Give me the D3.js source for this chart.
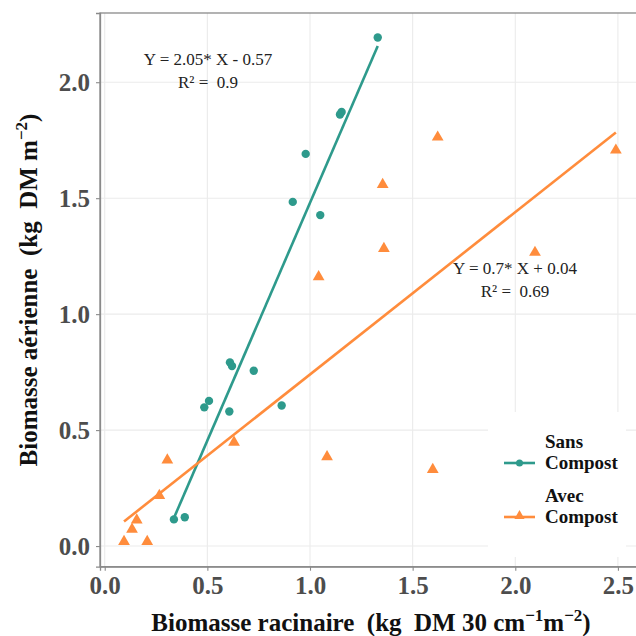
<!DOCTYPE html>
<html><head><meta charset="utf-8">
<script src="https://cdn.jsdelivr.net/npm/d3@7"></script>
<style>body{margin:0;background:#fff}svg{display:block}text{white-space:pre}</style>
</head><body>
<script>
const sansX = [0.337,0.39,0.485,0.508,0.607,0.61,0.62,0.726,0.862,0.916,0.979,1.05,1.146,1.154,1.33];
const sansY = [0.115,0.124,0.598,0.626,0.58,0.792,0.776,0.756,0.606,1.484,1.691,1.427,1.861,1.872,2.193];
const avecX = [0.094,0.133,0.156,0.207,0.266,0.305,0.63,1.042,1.083,1.354,1.36,1.598,1.622,2.096,2.49];
const avecY = [0.019,0.072,0.112,0.019,0.218,0.371,0.447,1.161,0.385,1.559,1.283,0.33,1.763,1.266,1.707];
const fitSans = [2.05, -0.57];
const fitAvec = [0.7, 0.04];
const eqSans = ["Y = 2.05* X - 0.57", "R\u00B2 =  0.9"];
const eqAvec = ["Y = 0.7* X + 0.04", "R\u00B2 =  0.69"];
const xTicks = [0, 0.5, 1, 1.5, 2, 2.5];
const yTicks = [0, 0.5, 1, 1.5, 2];
const seriesNames = [["Sans","Compost"],["Avec","Compost"]];
const colors = ["#2E9A8C", "#FF8C3C"];

const W = 636, H = 636;
const svg = d3.select("body").append("svg").attr("width", W).attr("height", H);
const font = "Liberation Serif";
const x = d3.scaleLinear().domain([-0.023, 2.61]).range([100, 640.5]);
const y = d3.scaleLinear().domain([-0.089, 2.2985]).range([566.7, 13]);

// grid
const g = svg.append("g");
g.selectAll(".gx").data(xTicks).join("line")
  .attr("x1", d => x(d)).attr("x2", d => x(d)).attr("y1", 13).attr("y2", 566.7)
  .attr("stroke", "#ebebeb").attr("stroke-width", 1.1);
g.selectAll(".gy").data(yTicks).join("line")
  .attr("y1", d => y(d)).attr("y2", d => y(d)).attr("x1", 100).attr("x2", 640)
  .attr("stroke", "#ebebeb").attr("stroke-width", 1.1);

// panel border
svg.append("rect").attr("x", 100).attr("y", 13).attr("width", 540.5).attr("height", 553.7)
  .attr("fill", "none").attr("stroke", "#8a8a8a").attr("stroke-width", 1.3);

// axes
const xAxis = d3.axisBottom(x).tickValues(xTicks).tickFormat(d3.format(".1f")).tickSize(4).tickPadding(6);
const yAxis = d3.axisLeft(y).tickValues(yTicks).tickFormat(d3.format(".1f")).tickSize(4).tickPadding(6);
const ax = svg.append("g").attr("transform", "translate(0,566.7)").call(xAxis);
const ay = svg.append("g").attr("transform", "translate(100,0)").call(yAxis);
[ax, ay].forEach(a => {
  a.select(".domain").attr("stroke", "#8a8a8a").attr("stroke-width", 1.3);
  a.selectAll(".tick line").attr("stroke", "#8a8a8a").attr("stroke-width", 1.1);
  a.selectAll("text").attr("font-family", font).attr("font-weight", "bold")
    .attr("font-size", 25).attr("fill", "#4D4D4D");
});
ay.selectAll("text").attr("dy", "0.34em");

// fit lines
function drawFit(xs, coef, col) {
  const x0 = d3.min(xs), x1 = d3.max(xs);
  svg.append("line").attr("x1", x(x0)).attr("y1", y(coef[0]*x0 + coef[1]))
    .attr("x2", x(x1)).attr("y2", y(coef[0]*x1 + coef[1]))
    .attr("stroke", col).attr("stroke-width", 2.6);
}
drawFit(sansX, fitSans, colors[0]);
drawFit(avecX, fitAvec, colors[1]);

// points
svg.append("g").selectAll("circle").data(sansX.map((v,i)=>[v, sansY[i]])).join("circle")
  .attr("cx", d => x(d[0])).attr("cy", d => y(d[1])).attr("r", 4.2).attr("fill", colors[0]);
const tri = d3.symbol().type(d3.symbolTriangle).size(60);
svg.append("g").selectAll("path").data(avecX.map((v,i)=>[v, avecY[i]])).join("path")
  .attr("d", tri).attr("transform", d => `translate(${x(d[0])},${y(d[1])})`).attr("fill", colors[1]);

// equations
function eq(lines, cx, y0) {
  lines.forEach((t, i) => svg.append("text").attr("x", cx).attr("y", y0 + i*23)
    .attr("text-anchor", "middle").attr("font-family", font).attr("font-size", 17)
    .attr("fill", "#222").text(t));
}
eq(eqSans, 208, 65);
eq(eqAvec, 515, 274);

// legend
svg.append("rect").attr("x", 488).attr("y", 412).attr("width", 138).attr("height", 145).attr("fill", "#fff");
seriesNames.forEach((nm, i) => {
  const yy = 463 + i*54;
  svg.append("line").attr("x1", 504).attr("x2", 535).attr("y1", yy).attr("y2", yy)
    .attr("stroke", colors[i]).attr("stroke-width", 2.6);
  if (i === 0) svg.append("circle").attr("cx", 519.5).attr("cy", yy).attr("r", 3.5).attr("fill", colors[i]);
  else svg.append("path").attr("d", d3.symbol().type(d3.symbolTriangle).size(45))
    .attr("transform", `translate(519.5,${yy-1})`).attr("fill", colors[i]);
  nm.forEach((t, j) => svg.append("text").attr("x", 545).attr("y", yy - 15 + j*21)
    .attr("font-family", font).attr("font-weight", "bold").attr("font-size", 19)
    .attr("fill", "#111").text(t));
});

// axis titles
const xt = svg.append("text").attr("x", 371).attr("y", 631).attr("text-anchor", "middle")
  .attr("font-family", font).attr("font-weight", "bold").attr("font-size", 25).attr("fill", "#111");
xt.append("tspan").text("Biomasse racinaire  (kg  DM 30 cm");
xt.append("tspan").attr("dy", -10).attr("font-size", 17).text("\u22121");
xt.append("tspan").attr("dy", 10).text("m");
xt.append("tspan").attr("dy", -10).attr("font-size", 17).text("\u22122");
xt.append("tspan").attr("dy", 10).text(")");

const yt = svg.append("text").attr("transform", "translate(37,290) rotate(-90)").attr("text-anchor", "middle")
  .attr("font-family", font).attr("font-weight", "bold").attr("font-size", 25).attr("fill", "#111");
yt.append("tspan").text("Biomasse aérienne  (kg  DM m");
yt.append("tspan").attr("dy", -10).attr("font-size", 17).text("\u22122");
yt.append("tspan").attr("dy", 10).text(")");
</script>
</body></html>
